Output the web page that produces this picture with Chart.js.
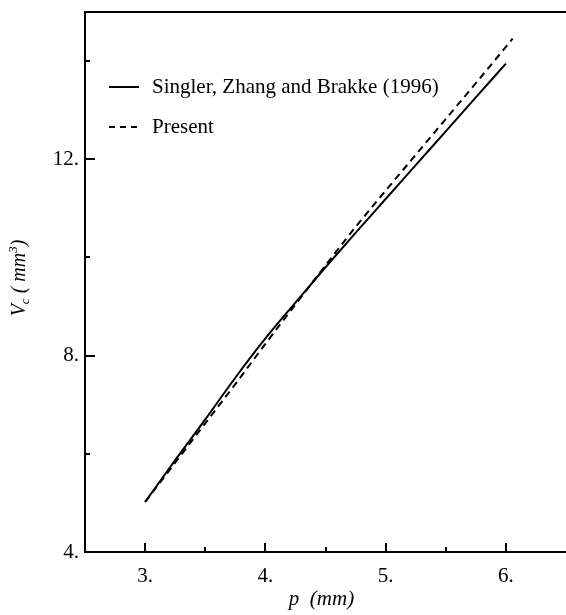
<!DOCTYPE html>
<html>
<head>
<meta charset="utf-8">
<script src="https://cdn.jsdelivr.net/npm/chart.js@4/dist/chart.umd.min.js"></script>
<style>
  html, body { margin: 0; padding: 0; background: #fff; }
  #wrap { width: 566px; height: 615px; }
</style>
</head>
<body>
<div id="wrap"><canvas id="c" width="566" height="615"></canvas></div>
<script>
// ---- data ----
const seriesNames = ['Singler, Zhang and Brakke (1996)', 'Present'];
const pSingler = [3.0, 3.25, 3.5, 3.75, 4.0, 4.25, 4.5, 4.75, 5.0, 5.25, 5.5, 5.75, 6.0];
const vSingler = [5.02, 5.87, 6.70, 7.55, 8.35, 9.08, 9.80, 10.50, 11.19, 11.88, 12.57, 13.26, 13.95];
const pPresent = [3.0, 3.25, 3.5, 3.75, 4.0, 4.25, 4.5, 4.75, 5.0, 5.25, 5.5, 5.75, 6.0, 6.056];
const vPresent = [5.02, 5.82, 6.62, 7.42, 8.24, 9.04, 9.84, 10.62, 11.36, 12.09, 12.82, 13.55, 14.29, 14.46];
const xTicks = [3, 4, 5, 6];
const xMinor = [3.5, 4.5, 5.5];
const yTicks = [4, 8, 12];
const yMinor = [6, 10, 14];
const xRange = [2.5, 6.5];
const yRange = [4, 15];

const FONT = '"Liberation Serif", "Times New Roman", serif';

function pts(xs, ys) { return xs.map((x, i) => ({ x: x, y: ys[i] })); }

const decor = {
  id: 'decor',
  afterDraw(chart) {
    const ctx = chart.ctx;
    const a = chart.chartArea;
    const xs = chart.scales.x, ys = chart.scales.y;
    ctx.save();
    ctx.strokeStyle = '#000';
    ctx.lineWidth = 2;
    // top border
    ctx.beginPath();
    ctx.moveTo(a.left - 1, a.top);
    ctx.lineTo(chart.width, a.top);
    ctx.stroke();
    // inner ticks
    xTicks.forEach(v => {
      const px = Math.round(xs.getPixelForValue(v));
      ctx.beginPath(); ctx.moveTo(px, a.bottom); ctx.lineTo(px, a.bottom - 9); ctx.stroke();
    });
    xMinor.forEach(v => {
      const px = Math.round(xs.getPixelForValue(v));
      ctx.beginPath(); ctx.moveTo(px, a.bottom); ctx.lineTo(px, a.bottom - 5); ctx.stroke();
    });
    yTicks.forEach(v => {
      const py = Math.round(ys.getPixelForValue(v));
      ctx.beginPath(); ctx.moveTo(a.left, py); ctx.lineTo(a.left + 10, py); ctx.stroke();
    });
    yMinor.forEach(v => {
      const py = Math.round(ys.getPixelForValue(v));
      ctx.beginPath(); ctx.moveTo(a.left, py); ctx.lineTo(a.left + 5, py); ctx.stroke();
    });

    // legend
    ctx.fillStyle = '#000';
    ctx.font = '21px ' + FONT;
    ctx.textBaseline = 'middle';
    ctx.textAlign = 'left';
    const lx = 109, lx2 = 139, tx = 152;
    const ly = [87, 127];
    ctx.lineWidth = 2;
    ctx.setLineDash([]);
    ctx.beginPath(); ctx.moveTo(lx, ly[0]); ctx.lineTo(lx2, ly[0]); ctx.stroke();
    ctx.fillText(seriesNames[0], tx, ly[0]);
    ctx.setLineDash([6, 5]);
    ctx.beginPath(); ctx.moveTo(lx, ly[1]); ctx.lineTo(lx2 + 1, ly[1]); ctx.stroke();
    ctx.setLineDash([]);
    ctx.fillText(seriesNames[1], tx, ly[1]);

    // x title
    ctx.font = 'italic 21px ' + FONT;
    ctx.textAlign = 'center';
    ctx.textBaseline = 'alphabetic';
    ctx.fillText('p  (mm)', (a.left + a.right) / 2 - 4, 605);

    // y title with subscript and superscript
    ctx.save();
    ctx.translate(25, (a.top + a.bottom) / 2 - 4);
    ctx.rotate(-Math.PI / 2);
    const big = 'italic 20px ' + FONT, small = 'italic 13px ' + FONT;
    const parts = [
      { t: 'V', f: big, dy: 0 },
      { t: 'c', f: small, dy: 4 },
      { t: ' ( mm', f: big, dy: 0 },
      { t: '3', f: small, dy: -8 },
      { t: ')', f: big, dy: 0 }
    ];
    let total = 0;
    parts.forEach(p => { ctx.font = p.f; p.w = ctx.measureText(p.t).width; total += p.w; });
    let x = -total / 2;
    ctx.textAlign = 'left';
    parts.forEach(p => { ctx.font = p.f; ctx.fillText(p.t, x, p.dy); x += p.w; });
    ctx.restore();

    ctx.restore();
  }
};

new Chart(document.getElementById('c'), {
  type: 'scatter',
  data: {
    datasets: [
      {
        label: seriesNames[0],
        data: pts(pSingler, vSingler),
        showLine: true,
        borderColor: '#000',
        borderWidth: 2,
        pointRadius: 0,
        cubicInterpolationMode: 'monotone',
        fill: false
      },
      {
        label: seriesNames[1],
        data: pts(pPresent, vPresent),
        showLine: true,
        borderColor: '#000',
        borderWidth: 2,
        borderDash: [7, 5],
        pointRadius: 0,
        cubicInterpolationMode: 'monotone',
        fill: false
      }
    ]
  },
  options: {
    responsive: false,
    animation: false,
    devicePixelRatio: 1,
    layout: { padding: { top: 12, right: 0, left: 0, bottom: 0 } },
    plugins: { legend: { display: false }, tooltip: { enabled: false } },
    scales: {
      x: {
        type: 'linear',
        min: xRange[0], max: xRange[1],
        afterBuildTicks: s => { s.ticks = xTicks.map(v => ({ value: v })); },
        afterFit: s => { s.height = 63; s.paddingLeft = 0; s.paddingRight = 0; },
        grid: { display: false, drawTicks: false },
        border: { display: true, color: '#000', width: 2 },
        ticks: {
          color: '#000',
          padding: 12,
          font: { family: FONT, size: 21 },
          callback: v => v + '.'
        }
      },
      y: {
        type: 'linear',
        min: yRange[0], max: yRange[1],
        afterBuildTicks: s => { s.ticks = yTicks.map(v => ({ value: v })); },
        afterFit: s => { s.width = 85; s.paddingTop = 0; s.paddingBottom = 0; },
        grid: { display: false, drawTicks: false },
        border: { display: true, color: '#000', width: 2 },
        ticks: {
          color: '#000',
          padding: 6,
          font: { family: FONT, size: 21 },
          callback: v => v + '.'
        }
      }
    }
  },
  plugins: [decor]
});
</script>
</body>
</html>
